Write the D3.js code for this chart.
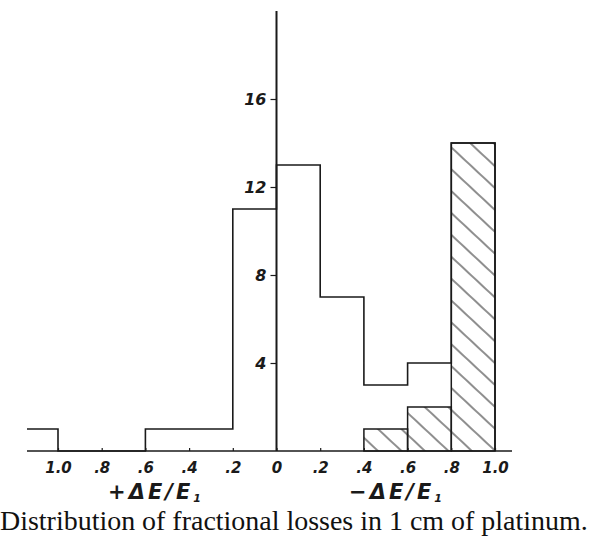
<!DOCTYPE html>
<html>
<head>
<meta charset="utf-8">
<script src="https://cdn.jsdelivr.net/npm/d3@7"></script>
<style>
  body { margin: 0; background: #fff; }
  svg { display: block; }
</style>
</head>
<body>
<svg id="chart" width="604" height="539"></svg>
<script>
// gain side (+dE/E), read from the left half, edges go from 1.2 down to 0
const gainEdges = [1.2, 1.0, 0.8, 0.6, 0.4, 0.2];
const gainCounts = [1, 0, 0, 1, 1, 11];
// loss side (-dE/E), edges 0 .. 1.0
const lossEdges = [0, 0.2, 0.4, 0.6, 0.8];
const lossCounts = [13, 7, 3, 4, 14];
const hatchedCounts = [0, 0, 1, 2, 14];
const yTicks = [4, 8, 12, 16];
const xTicks = [-1.0, -0.8, -0.6, -0.4, -0.2, 0, 0.2, 0.4, 0.6, 0.8, 1.0];
const caption = "Distribution of fractional losses in 1 cm of platinum.";

const svg = d3.select("#chart");
const plotLeft = 27, plotRight = 512, base = 451;

// signed position: negative = gain side, positive = loss side
const x = d3.scaleLinear().domain([-1, 1]).range([58, 495]);
const y = d3.scaleLinear().domain([0, 20]).range([base, base - 440]);

const ink = "#1a1a1a";
const hand = "'DejaVu Sans', sans-serif";

svg.append("defs").call(defs => {
  defs.append("clipPath").attr("id", "plot")
    .append("rect").attr("x", plotLeft).attr("y", 0)
    .attr("width", plotRight - plotLeft).attr("height", base + 2);
  const p = defs.append("pattern").attr("id", "hatch")
    .attr("patternUnits", "userSpaceOnUse")
    .attr("width", 16).attr("height", 16)
    .attr("patternTransform", "rotate(43)");
  p.append("line").attr("x1", 0).attr("y1", 8).attr("x2", 16).attr("y2", 8)
    .attr("stroke", "#333").attr("stroke-width", 1.1);
});

// hatched bars
const hatched = lossEdges.map((e, i) => ({ x0: e, x1: e + 0.2, n: hatchedCounts[i] }))
  .filter(d => d.n > 0);
svg.append("g").selectAll("rect").data(hatched).join("rect")
  .attr("x", d => x(d.x0))
  .attr("y", d => y(d.n))
  .attr("width", d => x(d.x1) - x(d.x0))
  .attr("height", d => y(0) - y(d.n))
  .attr("fill", "url(#hatch)")
  .attr("stroke", ink)
  .attr("stroke-width", 1.5);

// open histogram outline as one step line
let pts = gainEdges.map((e, i) => [-e, gainCounts[i]]);
pts = pts.concat(lossEdges.map((e, i) => [e, lossCounts[i]]));
pts.push([1.0, 0]);
const step = d3.line().x(d => x(d[0])).y(d => y(d[1])).curve(d3.curveStepAfter);
svg.append("path")
  .attr("clip-path", "url(#plot)")
  .attr("d", step(pts))
  .attr("fill", "none")
  .attr("stroke", ink)
  .attr("stroke-width", 1.6);

// axes
svg.append("line").attr("x1", plotLeft).attr("x2", plotRight)
  .attr("y1", base).attr("y2", base)
  .attr("stroke", ink).attr("stroke-width", 1.6);
svg.append("line").attr("x1", x(0)).attr("x2", x(0))
  .attr("y1", y(20)).attr("y2", base)
  .attr("stroke", ink).attr("stroke-width", 2);

const yAxis = d3.axisLeft(y).tickValues(yTicks).tickSize(6).tickPadding(4)
  .tickFormat(d3.format("d"));
svg.append("g").attr("transform", `translate(${x(0)},0)`).call(yAxis)
  .call(g => g.select(".domain").remove())
  .call(g => g.selectAll("line").attr("stroke", ink).attr("stroke-width", 1.2))
  .call(g => g.selectAll("text").attr("fill", ink)
    .style("font", `italic bold 16px ${hand}`));

const xAxis = d3.axisBottom(x).tickValues(xTicks).tickSize(3).tickPadding(11)
  .tickFormat(d => {
    const a = Math.abs(d);
    if (a === 0) return "0";
    if (a === 1) return "1.0";
    return d3.format(".1f")(a).replace(/^0/, "");
  });
svg.append("g").attr("transform", `translate(0,${base - 3})`).call(xAxis)
  .call(g => g.select(".domain").remove())
  .call(g => g.selectAll("line").attr("stroke", ink).attr("stroke-width", 1.2))
  .call(g => g.selectAll("text").attr("fill", ink)
    .style("font", `italic bold 15px ${hand}`));

// axis titles
function title(cx, sign) {
  const t = svg.append("text")
    .attr("x", cx).attr("y", 499)
    .attr("text-anchor", "middle")
    .attr("fill", ink)
    .style("font", `italic bold 21px ${hand}`)
    .style("letter-spacing", "3px");
  t.append("tspan").text(sign + "\u0394E/E");
  t.append("tspan").attr("dy", 3).style("font-size", "11px").text("1");
}
title(156, "+");
title(397, "\u2212");

// caption, sized so that it spans the same width as in the print
const cap = svg.append("text")
  .attr("x", 0).attr("y", 530)
  .attr("fill", "#111")
  .style("font", "20px 'Liberation Serif', 'DejaVu Serif', serif")
  .text(caption);
const natural = cap.node().getComputedTextLength();
cap.style("font-size", (20 * 588 / natural) + "px");
</script>
</body>
</html>
